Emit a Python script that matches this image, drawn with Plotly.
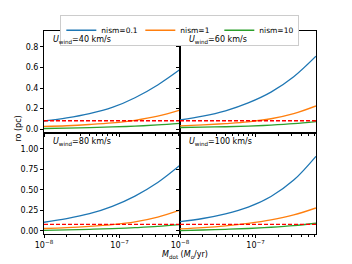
import plotly.graph_objects as go
from plotly.subplots import make_subplots

# ---- data ----
mdot = [1e-8, 2e-8, 4e-8, 8e-8, 1.6e-7, 3.2e-7, 6.3e-7]
nism_labels = ["nism=0.1", "nism=1", "nism=10"]
winds = ["40", "60", "80", "100"]
xtick_vals = [1e-8, 1e-7]
xtick_text = ["10<sup>−8</sup>", "10<sup>−7</sup>"]

ro_u40 = {
    "nism=0.1": [0.078, 0.108, 0.150, 0.210, 0.305, 0.430, 0.580],
    "nism=1":   [0.025, 0.032, 0.044, 0.060, 0.085, 0.125, 0.185],
    "nism=10":  [0.005, 0.009, 0.014, 0.020, 0.028, 0.040, 0.055],
}
ro_u60 = {
    "nism=0.1": [0.088, 0.125, 0.178, 0.255, 0.360, 0.510, 0.710],
    "nism=1":   [0.030, 0.040, 0.053, 0.070, 0.100, 0.150, 0.225],
    "nism=10":  [0.015, 0.018, 0.022, 0.028, 0.038, 0.052, 0.072],
}
ro_u80 = {
    "nism=0.1": [0.106, 0.150, 0.210, 0.300, 0.425, 0.590, 0.800],
    "nism=1":   [0.030, 0.040, 0.056, 0.078, 0.112, 0.170, 0.255],
    "nism=10":  [0.008, 0.013, 0.020, 0.028, 0.040, 0.055, 0.077],
}
ro_u100 = {
    "nism=0.1": [0.115, 0.152, 0.208, 0.290, 0.420, 0.620, 0.910],
    "nism=1":   [0.025, 0.040, 0.062, 0.093, 0.135, 0.195, 0.280],
    "nism=10":  [0.005, 0.012, 0.020, 0.030, 0.045, 0.065, 0.094],
}
ro_ref = 0.08
panels = [ro_u40, ro_u60, ro_u80, ro_u100]

colors = {"nism=0.1": "#1f77b4", "nism=1": "#ff7f0e", "nism=10": "#2ca02c"}

fig = make_subplots(rows=2, cols=2, horizontal_spacing=0, vertical_spacing=0)

for i, data in enumerate(panels):
    r, c = i // 2 + 1, i % 2 + 1
    for lab in nism_labels:
        fig.add_trace(go.Scatter(x=mdot, y=data[lab], mode="lines", name=lab,
                                 line=dict(color=colors[lab], width=1.3, shape="spline"),
                                 showlegend=(i == 0)), row=r, col=c)
    fig.add_trace(go.Scatter(x=[mdot[0], mdot[-1]], y=[ro_ref, ro_ref], mode="lines",
                             line=dict(color="#ff0000", width=1.4, dash="4px,2px"),
                             showlegend=False), row=r, col=c)

font = "DejaVu Sans"
axcommon = dict(showline=True, linecolor="black", linewidth=1, mirror=True,
                ticks="outside", ticklen=3, tickcolor="black", showgrid=False,
                zeroline=False, tickfont=dict(size=8, color="black", family=font))
minor_x = [2e-8, 3e-8, 4e-8, 5e-8, 6e-8, 7e-8, 8e-8, 9e-8, 2e-7, 3e-7, 4e-7, 5e-7, 6e-7]
for r in (1, 2):
    for c in (1, 2):
        fig.update_xaxes(type="log", range=[-8, -6.2], tickvals=xtick_vals, ticktext=xtick_text,
                         showticklabels=(r == 2),
                         minor=dict(ticks="outside", ticklen=2, tickcolor="black", tickvals=minor_x),
                         row=r, col=c, **axcommon)
        if r == 1:
            fig.update_yaxes(range=[-0.034, 0.956], tickvals=[0, 0.2, 0.4, 0.6, 0.8],
                             tickformat=".1f", showticklabels=(c == 1), row=r, col=c, **axcommon)
        else:
            fig.update_yaxes(range=[-0.037, 1.20], tickvals=[0, 0.25, 0.5, 0.75, 1.0],
                             tickformat=".2f", showticklabels=(c == 1), row=r, col=c, **axcommon)

# panel labels
xrefs = ["x", "x2", "x3", "x4"]
yrefs = ["y", "y2", "y3", "y4"]
for i, w in enumerate(winds):
    fig.add_annotation(text=f"<i>U</i><sub>wind</sub>={w} km/s",
                       xref=xrefs[i] + " domain", yref=yrefs[i] + " domain",
                       x=0.05, y=0.98, xanchor="left", yanchor="top", showarrow=False,
                       font=dict(size=8, color="black", family=font))

fig.add_annotation(text="<i>M</i><sub>dot</sub> (<i>M</i><sub>o</sub>/yr)",
                   xref="paper", yref="paper", x=0.52, y=-0.104, xanchor="center", yanchor="middle",
                   showarrow=False, font=dict(size=8, color="black", family=font))
fig.add_annotation(text="ro (pc)", textangle=-90, xref="paper", yref="paper",
                   x=-0.095, y=0.52, xanchor="center", yanchor="middle",
                   showarrow=False, font=dict(size=8, color="black", family=font))

fig.update_layout(
    width=352, height=264,
    margin=dict(l=44, r=36, t=31, b=30, autoexpand=False),
    paper_bgcolor="white", plot_bgcolor="white",
    font=dict(family=font, size=8, color="black"),
    legend=dict(orientation="h", x=0.06, y=1.08, xanchor="left", yanchor="top",
                bordercolor="#cccccc", borderwidth=1, bgcolor="white",
                font=dict(size=7.5, family=font), itemwidth=30,
                entrywidth=34, entrywidthmode="pixels", tracegroupgap=0),
)

fig.write_html("out.html", config={"displayModeBar": False},
               post_script="document.body.style.margin='0';document.body.style.overflow='hidden';")
